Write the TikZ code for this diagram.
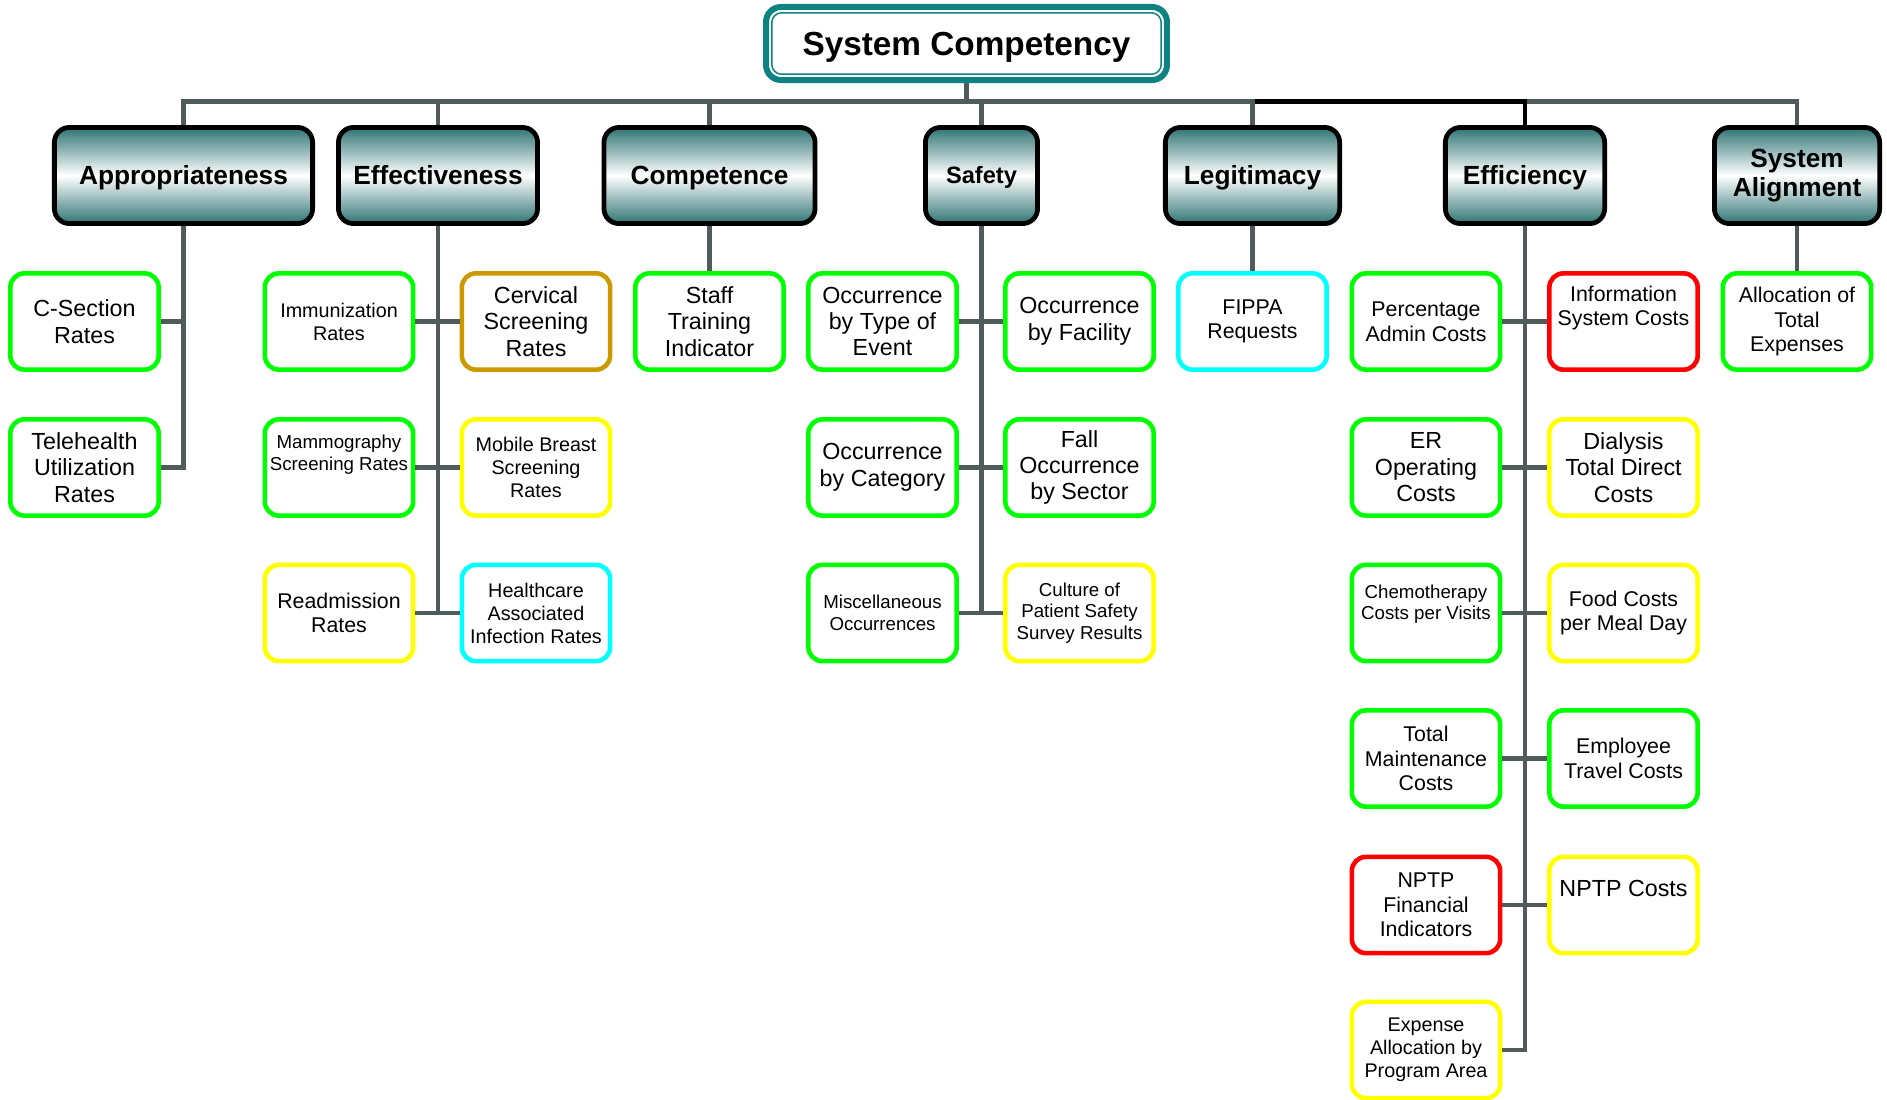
\documentclass[tikz,border=0pt]{standalone}
\usepackage{fontspec}
\setmainfont{Liberation Sans}

\definecolor{rootteal}{RGB}{14,130,128}
\definecolor{catteal}{RGB}{46,116,116}
\definecolor{wiregray}{RGB}{80,92,92}
\definecolor{okgreen}{RGB}{0,255,0}
\definecolor{warnyellow}{RGB}{255,255,0}
\definecolor{badred}{RGB}{255,0,0}
\definecolor{infocyan}{RGB}{0,255,255}
\definecolor{watchgold}{RGB}{204,153,0}

\begin{document}
\begin{tikzpicture}[x=0.5669pt, y=-0.5669pt,
    wire/.style={draw=wiregray, line width=2.66pt},
    oneline/.style={text height=#1, text depth=0pt},
    oneline/.default=10.7pt,
    cat/.style={draw=black, line width=2.7pt, rounded corners=8.5pt,
      top color=catteal, bottom color=catteal, middle color=white,
      minimum height=54.5pt, inner sep=2pt, align=center,
      font=\bfseries\fontsize{14.9}{16.6}\selectfont},
    leaf/.style={line width=2.6pt, rounded corners=8pt, fill=white,
      minimum width=84.1pt, minimum height=54.6pt, inner sep=1pt, align=center},
    gleaf/.style={leaf, draw=okgreen},
    yleaf/.style={leaf, draw=warnyellow},
    rleaf/.style={leaf, draw=badred},
    cleaf/.style={leaf, draw=infocyan},
    oleaf/.style={leaf, draw=watchgold},
    bigtxt/.style={font=\fontsize{13.2}{15}\selectfont},
    midtxt/.style={font=\fontsize{12.1}{13.9}\selectfont},
    smalltxt/.style={font=\fontsize{11.2}{13}\selectfont},
    tinytxt/.style={font=\fontsize{10.6}{12.3}\selectfont}]
    \useasboundingbox (0,0) rectangle (1887,1099);

    % top of the tree
    \node[draw=rootteal, line width=3.4pt, rounded corners=8.5pt, fill=white,
      minimum width=227.3pt, minimum height=41.4pt, oneline=13.5pt,
      font=\bfseries\fontsize{18.9}{22}\selectfont] (sc) at (966.5,43.5) {System Competency};
    \draw[rootteal, line width=0.85pt, rounded corners=5.5pt]
      ([shift={(5pt,-5pt)}]sc.north west) rectangle ([shift={(-5pt,5pt)}]sc.south east);

    % dimensions
    \node[cat, oneline, minimum width=146.4pt] (appr) at (183.5,175.5) {Appropriateness};
    \node[cat, oneline, minimum width=112.9pt] (effe) at (438,175.5) {Effectiveness};
    \node[cat, oneline, minimum width=119.7pt] (comp) at (709.5,175.5) {Competence};
    \node[cat, oneline=9.6pt, minimum width=63.6pt, font=\bfseries\fontsize{13.4}{15}\selectfont] (safe) at (981.5,175.5) {Safety};
    \node[cat, oneline, minimum width=98.8pt] (legi) at (1252.5,175.5) {Legitimacy};
    \node[cat, oneline, minimum width=90.3pt] (effi) at (1525,175.5) {Efficiency};
    \node[cat, minimum width=93.7pt] (sysal) at (1797,175.5) {System\\Alignment};

    % appropriateness
    \node[gleaf, bigtxt] (csec) at (84.5,321.5) {C-Section\\Rates};
    \node[gleaf, bigtxt] (tele) at (84.5,467.5) {Telehealth\\Utilization\\Rates};

    % effectiveness
    \node[gleaf, smalltxt] (imm) at (339,321.5) {Immunization\\Rates};
    \node[oleaf, bigtxt] (cerv) at (536,321.5) {Cervical\\Screening\\Rates};
    \node[gleaf, tinytxt] (mamm) at (339,467.5) {Mammography\\Screening Rates\\[4.5pt]~};
    \node[yleaf, smalltxt] (mobile) at (536,467.5) {Mobile Breast\\Screening\\Rates};
    \node[yleaf, midtxt] (readm) at (339,613) {Readmission\\Rates};
    \node[cleaf, smalltxt] (hai) at (536,613) {Healthcare\\Associated\\Infection Rates};

    % competence
    \node[gleaf, bigtxt] (staff) at (709.5,321.5) {Staff\\Training\\Indicator};

    % safety
    \node[gleaf, bigtxt] (occtype) at (882.5,321.5) {Occurrence\\by Type of\\Event};
    \node[gleaf, bigtxt] (occfac) at (1079.5,321.5) {Occurrence\\by Facility};
    \node[gleaf, bigtxt] (occcat) at (882.5,467.5) {Occurrence\\by Category};
    \node[gleaf, bigtxt] (fall) at (1079.5,467.5) {Fall\\Occurrence\\by Sector};
    \node[gleaf, tinytxt] (misc) at (882.5,613) {Miscellaneous\\Occurrences};
    \node[yleaf, tinytxt] (culture) at (1079.5,613) {Culture of\\Patient Safety\\Survey Results};

    % legitimacy
    \node[cleaf, midtxt] (fippa) at (1252.5,321.5) {FIPPA\\Requests};

    % efficiency
    \node[gleaf, midtxt] (admin) at (1426,321.5) {Percentage\\Admin Costs};
    \node[rleaf, midtxt] (infosys) at (1623.5,321.5) {Information\\System Costs\\[4pt]~};
    \node[gleaf, bigtxt] (er) at (1426,467.5) {ER\\Operating\\Costs};
    \node[yleaf, bigtxt] (dialysis) at (1623.5,467.5) {Dialysis\\Total Direct\\Costs};
    \node[gleaf, tinytxt] (chemo) at (1426,613) {Chemotherapy\\Costs per Visits\\~};
    \node[yleaf, midtxt] (food) at (1623.5,613) {Food Costs\\per Meal Day};
    \node[gleaf, midtxt] (maint) at (1426,758.5) {Total\\Maintenance\\Costs};
    \node[gleaf, midtxt] (travel) at (1623.5,758.5) {Employee\\Travel Costs};
    \node[rleaf, midtxt] (nptpfin) at (1426,905) {NPTP\\Financial\\Indicators};
    \node[yleaf, bigtxt] (nptpcost) at (1623.5,905) {NPTP Costs\\[4.3pt]~};
    \node[yleaf, smalltxt] (expalloc) at (1426,1050) {Expense\\Allocation by\\Program Area};

    % system alignment
    \node[gleaf, midtxt] (alloc) at (1797,321.5) {Allocation of\\Total\\Expenses};

    % bus under the top box
    \coordinate (bus) at (966.5,101.7);
    \draw[wire] (appr.north) -- (appr.north |- bus) -- (sysal.north |- bus) -- (sysal.north);
    \draw[wire] (sc.south) -- (sc.south |- bus);
    \draw[wire] (effe.north) -- (effe.north |- bus);
    \draw[wire] (comp.north) -- (comp.north |- bus);
    \draw[wire] (safe.north) -- (safe.north |- bus);
    \draw[wire] (legi.north) -- (legi.north |- bus);
    \draw[wire, draw=black] ([xshift=1.3pt]legi.north |- bus) -- (effi.north |- bus) -- (effi.north);

    % trunks and branches
    \draw[wire] (appr.south) |- (tele.east);
    \draw[wire] (csec.east) -- (csec.east -| appr.south);

    \draw[wire] (effe.south) -- (effe.south |- readm.east);
    \draw[wire] (imm.east) -- (cerv.west);
    \draw[wire] (mamm.east) -- (mobile.west);
    \draw[wire] (readm.east) -- (hai.west);

    \draw[wire] (comp.south) -- (staff.north);

    \draw[wire] (safe.south) -- (safe.south |- misc.east);
    \draw[wire] (occtype.east) -- (occfac.west);
    \draw[wire] (occcat.east) -- (fall.west);
    \draw[wire] (misc.east) -- (culture.west);

    \draw[wire] (legi.south) -- (fippa.north);

    \draw[wire] (effi.south) |- (expalloc.east);
    \draw[wire] (admin.east) -- (infosys.west);
    \draw[wire] (er.east) -- (dialysis.west);
    \draw[wire] (chemo.east) -- (food.west);
    \draw[wire] (maint.east) -- (travel.west);
    \draw[wire] (nptpfin.east) -- (nptpcost.west);

    \draw[wire] (sysal.south) -- (alloc.north);
\end{tikzpicture}
\end{document}
